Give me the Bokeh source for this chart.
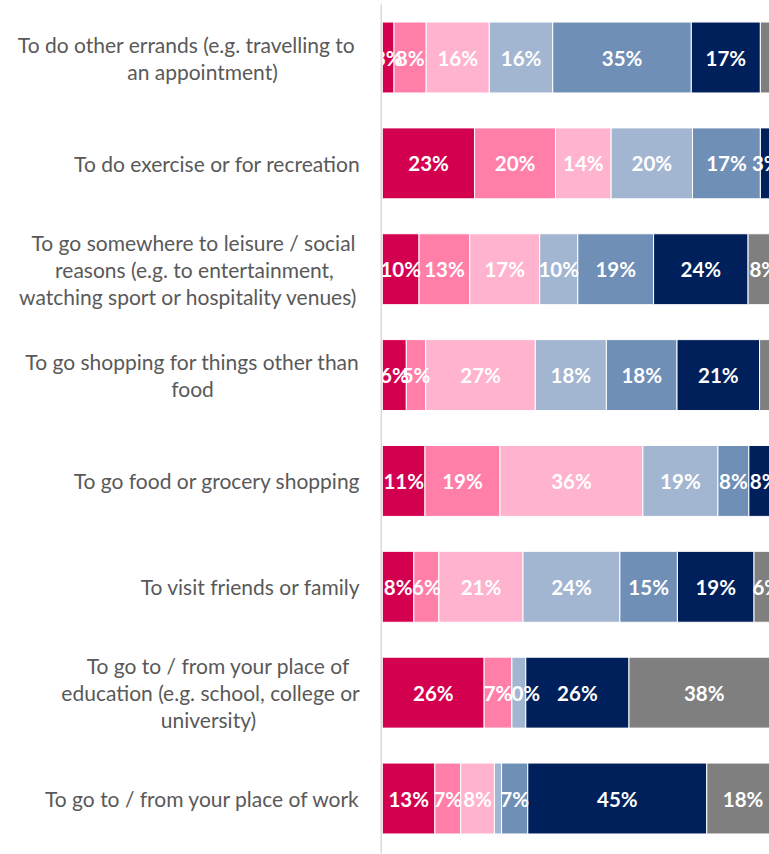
import numpy as np
from bokeh.plotting import figure
from bokeh.layouts import row
from bokeh.models import Range1d
from bokeh.embed import file_html
from bokeh.resources import INLINE
from bokeh.core.properties import value

# ---------------- data (top row first) ----------------
categories = [
    "To do other errands (e.g. travelling to|an appointment)",
    "To do exercise or for recreation",
    "To go somewhere to leisure / social|reasons (e.g. to entertainment,|watching sport or hospitality venues)",
    "To go shopping for things other than|food",
    "To go food or grocery shopping",
    "To visit friends or family",
    "To go to / from your place of|education (e.g. school, college or|university)",
    "To go to / from your place of work",
]

s1 = [2.9, 23.2, 9.2, 6.0, 10.7, 7.9, 25.6, 13.2]
s2 = [8.1, 20.4, 12.8, 4.9, 18.9, 6.3, 7.0, 6.5]
s3 = [15.9, 14.0, 17.6, 27.6, 36.0, 21.2, 0.0, 8.5]
s4 = [16.0, 20.5, 9.6, 17.9, 18.9, 24.4, 3.5, 1.8]
s5 = [34.9, 17.1, 19.1, 17.8, 7.8, 14.5, 0.0, 6.6]
s6 = [17.4, 3.0, 23.8, 20.8, 7.7, 19.3, 26.0, 45.1]
s7 = [4.8, 1.8, 7.9, 5.0, 0.0, 6.4, 37.9, 18.3]

l1 = ["3%", "23%", "10%", "6%", "11%", "8%", "26%", "13%"]
l2 = ["8%", "20%", "13%", "5%", "19%", "6%", "7%", "7%"]
l3 = ["16%", "14%", "17%", "27%", "36%", "21%", "", "8%"]
l4 = ["16%", "20%", "10%", "18%", "19%", "24%", "", ""]
l5 = ["35%", "17%", "19%", "18%", "8%", "15%", "0%", "7%"]
l6 = ["17%", "3%", "24%", "21%", "8%", "19%", "26%", "45%"]
l7 = ["", "", "8%", "", "", "6%", "38%", "18%"]

series = [s1, s2, s3, s4, s5, s6, s7]
labels = [l1, l2, l3, l4, l5, l6, l7]
colors = ["#D3004F", "#FF7FA8", "#FFB3CE", "#A3B6D1", "#6F8FB7", "#00205B", "#7F7F7F"]

# ---------------- layout ----------------
H = 854
LEFT_W = 382
RIGHT_W = 387
X_END = 97.5
ROW_PX = 105.86
Y_TOP = -57 / ROW_PX
Y_BOT = 7 + (H - 57 - 7 * ROW_PX) / ROW_PX
yr = Range1d(Y_BOT, Y_TOP)

def base(width, xr):
    f = figure(width=width, height=H, output_backend="svg", toolbar_location=None,
               x_range=xr, y_range=yr, x_axis_location=None, y_axis_location=None,
               min_border_left=0, min_border_right=0,
               min_border_top=0, min_border_bottom=0)
    f.grid.visible = False
    f.outline_line_color = None
    f.background_fill_color = "white"
    f.border_fill_color = "white"
    return f

# bars figure
p = base(RIGHT_W, Range1d(0, X_END))
n = len(categories)
names = [f"s{i+1}" for i in range(len(series))]
data = {"y": list(range(n))}
for nm, s in zip(names, series):
    data[nm] = s
p.hbar_stack(names, y="y", height=0.67, color=colors, source=data,
             line_color="white", line_width=1)

vals = np.array(series)
cum = np.cumsum(vals, axis=0)
starts = cum - vals
tx, ty, tt = [], [], []
for k in range(vals.shape[0]):
    for r in range(n):
        if labels[k][r]:
            tx.append(starts[k, r] + vals[k, r] / 2)
            ty.append(r)
            tt.append(labels[k][r])
p.text(x=tx, y=ty, text=tt, text_color="white", text_font=value("Lato"),
       text_font_style="bold", text_font_size="20.5px",
       text_align="center", text_baseline="middle")

# label figure (x in pixels)
q = base(LEFT_W, Range1d(0, LEFT_W))
# axis line
q.segment(x0=[381], y0=[Y_TOP + 4 / ROW_PX], x1=[381], y1=[Y_BOT - 1 / ROW_PX],
          line_color="#D9D9D9", line_width=2)

RIGHT_X = 360
line_centres = {
    0: [186, 202],
    2: [193, 194, 188],
    3: [192, 192],
    6: [218, 210, 208],
}
LINE_PX = 27
lx, ly, lt, la = [], [], [], []
for r, cat in enumerate(categories):
    lines = cat.split("|")
    m = len(lines)
    for k, ln in enumerate(lines):
        ly.append(r + (k - (m - 1) / 2) * LINE_PX / ROW_PX)
        lt.append(ln)
        if m == 1:
            lx.append(RIGHT_X)
            la.append("right")
        else:
            lx.append(line_centres[r][k])
            la.append("center")
q.text(x=lx, y=ly, text=lt, text_align=la, text_baseline="middle",
       text_font=value("Lato"), text_font_size="21px", text_color="#595959")

layout = row(q, p, spacing=0)
open("out.html", "w").write(file_html(layout, INLINE))
